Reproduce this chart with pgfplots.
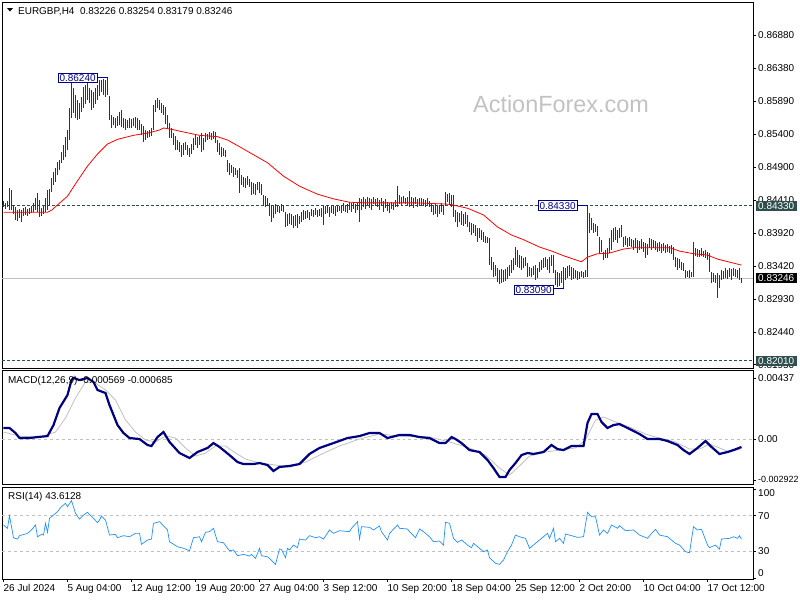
\documentclass[border=0pt]{standalone}
\usepackage{pgfplots}
\pgfplotsset{compat=1.18}
\usepackage{pgfplotstable}
\usepackage{fontspec}
\setmainfont{Liberation Sans}

\definecolor{barc}{RGB}{16,62,86}
\definecolor{slatec}{RGB}{47,79,79}
\definecolor{macdc}{RGB}{0,0,128}
\definecolor{sigc}{RGB}{192,192,192}
\definecolor{rsic}{RGB}{30,144,255}
\definecolor{boxc}{RGB}{0,0,139}
\newcommand\lab{\fontsize{10}{11}\selectfont}

% H4 bars, high and low, one row per bar
\pgfplotstableread[row sep=\\]{
h l\\
0.8440 0.8431\\ 0.8437 0.8428\\ 0.8440 0.8431\\ 0.8459 0.8426\\ 0.8456 0.8426\\ 0.8434 0.8420\\ 0.8431 0.8411\\ 0.8426 0.8410\\ 0.8428 0.8414\\ 0.8426 0.8408\\
0.8429 0.8417\\ 0.8431 0.8419\\ 0.8428 0.8417\\ 0.8429 0.8420\\ 0.8432 0.8422\\ 0.8437 0.8423\\ 0.8444 0.8426\\ 0.8452 0.8423\\ 0.8441 0.8416\\ 0.8429 0.8417\\
0.8432 0.8420\\ 0.8444 0.8423\\ 0.8456 0.8426\\ 0.8458 0.8432\\ 0.8474 0.8453\\ 0.8483 0.8464\\ 0.8489 0.8468\\ 0.8498 0.8479\\ 0.8501 0.8486\\ 0.8513 0.8497\\
0.8523 0.8501\\ 0.8535 0.8506\\ 0.8546 0.8516\\ 0.8579 0.8531\\ 0.8621 0.8564\\ 0.8609 0.8571\\ 0.8598 0.8564\\ 0.8591 0.8561\\ 0.8586 0.8562\\ 0.8595 0.8573\\
0.8610 0.8579\\ 0.8613 0.8585\\ 0.8621 0.8591\\ 0.8609 0.8586\\ 0.8606 0.8576\\ 0.8603 0.8579\\ 0.8609 0.8585\\ 0.8613 0.8591\\ 0.8621 0.8597\\ 0.8621 0.8603\\
0.8622 0.8598\\ 0.8621 0.8595\\ 0.8624 0.8598\\ 0.8597 0.8561\\ 0.8568 0.8549\\ 0.8565 0.8553\\ 0.8564 0.8549\\ 0.8567 0.8552\\ 0.8573 0.8553\\ 0.8576 0.8550\\
0.8564 0.8549\\ 0.8562 0.8546\\ 0.8561 0.8549\\ 0.8564 0.8549\\ 0.8562 0.8549\\ 0.8564 0.8552\\ 0.8565 0.8549\\ 0.8564 0.8546\\ 0.8561 0.8546\\ 0.8555 0.8538\\
0.8552 0.8528\\ 0.8546 0.8531\\ 0.8544 0.8534\\ 0.8546 0.8535\\ 0.8549 0.8537\\ 0.8583 0.8546\\ 0.8591 0.8573\\ 0.8594 0.8579\\ 0.8591 0.8576\\ 0.8586 0.8571\\
0.8583 0.8568\\ 0.8580 0.8555\\ 0.8568 0.8549\\ 0.8556 0.8534\\ 0.8549 0.8534\\ 0.8541 0.8523\\ 0.8537 0.8516\\ 0.8531 0.8516\\ 0.8528 0.8513\\ 0.8523 0.8506\\
0.8526 0.8509\\ 0.8528 0.8516\\ 0.8523 0.8509\\ 0.8519 0.8506\\ 0.8525 0.8510\\ 0.8534 0.8516\\ 0.8538 0.8523\\ 0.8535 0.8519\\ 0.8537 0.8523\\ 0.8541 0.8513\\
0.8534 0.8516\\ 0.8541 0.8528\\ 0.8540 0.8531\\ 0.8543 0.8532\\ 0.8541 0.8531\\ 0.8544 0.8532\\ 0.8543 0.8526\\ 0.8531 0.8513\\ 0.8526 0.8509\\ 0.8520 0.8506\\
0.8519 0.8507\\ 0.8516 0.8506\\ 0.8501 0.8483\\ 0.8497 0.8479\\ 0.8494 0.8482\\ 0.8491 0.8476\\ 0.8489 0.8479\\ 0.8486 0.8474\\ 0.8489 0.8452\\ 0.8479 0.8464\\
0.8476 0.8461\\ 0.8474 0.8459\\ 0.8477 0.8464\\ 0.8473 0.8461\\ 0.8468 0.8449\\ 0.8467 0.8450\\ 0.8465 0.8449\\ 0.8468 0.8456\\ 0.8468 0.8452\\ 0.8465 0.8449\\
0.8449 0.8434\\ 0.8447 0.8431\\ 0.8444 0.8432\\ 0.8437 0.8417\\ 0.8434 0.8408\\ 0.8432 0.8414\\ 0.8435 0.8420\\ 0.8434 0.8423\\ 0.8432 0.8422\\ 0.8435 0.8425\\
0.8434 0.8423\\ 0.8423 0.8401\\ 0.8420 0.8402\\ 0.8422 0.8405\\ 0.8420 0.8404\\ 0.8417 0.8399\\ 0.8419 0.8402\\ 0.8420 0.8399\\ 0.8417 0.8405\\ 0.8423 0.8408\\
0.8426 0.8411\\ 0.8425 0.8413\\ 0.8426 0.8414\\ 0.8423 0.8411\\ 0.8428 0.8417\\ 0.8426 0.8416\\ 0.8429 0.8419\\ 0.8426 0.8416\\ 0.8428 0.8417\\ 0.8429 0.8416\\
0.8434 0.8404\\ 0.8432 0.8420\\ 0.8434 0.8422\\ 0.8431 0.8416\\ 0.8432 0.8422\\ 0.8434 0.8420\\ 0.8432 0.8417\\ 0.8434 0.8423\\ 0.8432 0.8425\\ 0.8434 0.8422\\
0.8437 0.8425\\ 0.8434 0.8423\\ 0.8435 0.8422\\ 0.8438 0.8426\\ 0.8437 0.8423\\ 0.8438 0.8428\\ 0.8435 0.8422\\ 0.8438 0.8426\\ 0.8444 0.8408\\ 0.8443 0.8426\\
0.8446 0.8431\\ 0.8443 0.8428\\ 0.8446 0.8434\\ 0.8444 0.8429\\ 0.8443 0.8426\\ 0.8446 0.8435\\ 0.8443 0.8432\\ 0.8444 0.8431\\ 0.8441 0.8426\\ 0.8444 0.8432\\
0.8440 0.8423\\ 0.8443 0.8429\\ 0.8438 0.8425\\ 0.8437 0.8422\\ 0.8438 0.8428\\ 0.8437 0.8426\\ 0.8441 0.8431\\ 0.8462 0.8431\\ 0.8449 0.8435\\ 0.8446 0.8434\\
0.8447 0.8437\\ 0.8444 0.8435\\ 0.8446 0.8434\\ 0.8455 0.8431\\ 0.8446 0.8432\\ 0.8444 0.8429\\ 0.8446 0.8435\\ 0.8443 0.8431\\ 0.8444 0.8432\\ 0.8444 0.8434\\
0.8443 0.8432\\ 0.8441 0.8431\\ 0.8444 0.8434\\ 0.8440 0.8431\\ 0.8437 0.8423\\ 0.8434 0.8419\\ 0.8435 0.8420\\ 0.8432 0.8416\\ 0.8434 0.8420\\ 0.8437 0.8423\\
0.8434 0.8419\\ 0.8453 0.8432\\ 0.8450 0.8438\\ 0.8452 0.8434\\ 0.8449 0.8431\\ 0.8449 0.8416\\ 0.8426 0.8408\\ 0.8423 0.8401\\ 0.8422 0.8408\\ 0.8425 0.8404\\
0.8420 0.8402\\ 0.8423 0.8405\\ 0.8419 0.8401\\ 0.8408 0.8393\\ 0.8407 0.8389\\ 0.8405 0.8392\\ 0.8404 0.8387\\ 0.8399 0.8378\\ 0.8399 0.8384\\ 0.8396 0.8381\\
0.8393 0.8378\\ 0.8387 0.8377\\ 0.8386 0.8377\\ 0.8384 0.8344\\ 0.8356 0.8337\\ 0.8349 0.8326\\ 0.8344 0.8328\\ 0.8340 0.8319\\ 0.8337 0.8316\\ 0.8338 0.8317\\
0.8337 0.8319\\ 0.8338 0.8320\\ 0.8341 0.8323\\ 0.8344 0.8328\\ 0.8352 0.8332\\ 0.8355 0.8337\\ 0.8371 0.8344\\ 0.8367 0.8341\\ 0.8359 0.8340\\ 0.8358 0.8337\\
0.8355 0.8340\\ 0.8356 0.8343\\ 0.8347 0.8326\\ 0.8341 0.8328\\ 0.8340 0.8326\\ 0.8343 0.8329\\ 0.8344 0.8322\\ 0.8340 0.8325\\ 0.8349 0.8334\\ 0.8352 0.8337\\
0.8355 0.8340\\ 0.8356 0.8341\\ 0.8353 0.8337\\ 0.8356 0.8332\\ 0.8359 0.8343\\ 0.8359 0.8332\\ 0.8337 0.8314\\ 0.8334 0.8311\\ 0.8332 0.8313\\ 0.8335 0.8317\\
0.8341 0.8309\\ 0.8340 0.8322\\ 0.8343 0.8325\\ 0.8344 0.8328\\ 0.8341 0.8322\\ 0.8340 0.8323\\ 0.8337 0.8325\\ 0.8335 0.8322\\ 0.8334 0.8323\\ 0.8335 0.8326\\
0.8334 0.8325\\ 0.8337 0.8326\\ 0.8433 0.8326\\ 0.8422 0.8392\\ 0.8414 0.8396\\ 0.8407 0.8392\\ 0.8405 0.8393\\ 0.8402 0.8387\\ 0.8386 0.8362\\ 0.8381 0.8364\\
0.8364 0.8352\\ 0.8367 0.8355\\ 0.8369 0.8355\\ 0.8384 0.8362\\ 0.8396 0.8367\\ 0.8399 0.8378\\ 0.8401 0.8381\\ 0.8396 0.8377\\ 0.8399 0.8384\\ 0.8404 0.8386\\
0.8386 0.8371\\ 0.8387 0.8374\\ 0.8384 0.8371\\ 0.8386 0.8372\\ 0.8383 0.8371\\ 0.8381 0.8367\\ 0.8384 0.8369\\ 0.8381 0.8362\\ 0.8380 0.8367\\ 0.8383 0.8368\\
0.8378 0.8364\\ 0.8377 0.8355\\ 0.8375 0.8359\\ 0.8384 0.8369\\ 0.8383 0.8367\\ 0.8381 0.8369\\ 0.8380 0.8367\\ 0.8377 0.8364\\ 0.8378 0.8365\\ 0.8375 0.8362\\
0.8377 0.8365\\ 0.8374 0.8362\\ 0.8375 0.8364\\ 0.8372 0.8362\\ 0.8374 0.8360\\ 0.8371 0.8352\\ 0.8356 0.8341\\ 0.8355 0.8337\\ 0.8353 0.8340\\ 0.8349 0.8337\\
0.8347 0.8335\\ 0.8337 0.8325\\ 0.8335 0.8326\\ 0.8337 0.8325\\ 0.8334 0.8326\\ 0.8378 0.8326\\ 0.8369 0.8358\\ 0.8368 0.8356\\ 0.8367 0.8356\\ 0.8369 0.8358\\
0.8365 0.8356\\ 0.8367 0.8355\\ 0.8364 0.8352\\ 0.8362 0.8334\\ 0.8334 0.8317\\ 0.8332 0.8319\\ 0.8329 0.8317\\ 0.8332 0.8295\\ 0.8329 0.8310\\ 0.8337 0.8322\\
0.8335 0.8323\\ 0.8340 0.8325\\ 0.8337 0.8323\\ 0.8340 0.8326\\ 0.8338 0.8322\\ 0.8340 0.8328\\ 0.8338 0.8326\\ 0.8337 0.8325\\ 0.8340 0.8322\\ 0.8325 0.8318\\
}\bars

\pgfplotsset{
  panel/.style={
    scale only axis, width=751bp,
    xmin=-0.75, xmax=374.75,
    axis line style={black, line width=0.8pt},
    tick align=outside, major tick length=3bp,
    tick style={black, line width=0.6pt},
    ytick pos=right, yticklabel pos=right,
    scaled y ticks=false,
    yticklabel style={font=\lab, anchor=west, inner sep=0pt, xshift=2bp},
    xtick=\empty, clip=false,
  },
}
\tikzset{
  tagbox/.style={draw=boxc, fill=white, text=boxc, font=\lab, inner xsep=1.5pt,
    inner ysep=1.2pt, line width=0.8pt, anchor=east},
  pricetag/.style={text=white, font=\lab, inner xsep=2.5pt, inner ysep=1.5pt, anchor=west},
}

\begin{document}
\begin{tikzpicture}
\useasboundingbox (0,0) rectangle (800bp,-600bp);

% ---------------- price panel ----------------
\begin{axis}[panel, at={(2bp,-2bp)}, anchor=north west, height=366bp,
    ymin=0.81902, ymax=0.87373,
    ytick={0.8195,0.8244,0.8293,0.8342,0.8392,0.8441,0.8490,0.8540,0.8589,0.8638,0.8688},
    yticklabels={0.81950,0.82440,0.82930,0.83420,0.83920,0.84410,0.84900,0.85400,0.85890,0.86380,0.86880},
  ]
  \addplot[slatec, line width=0.7pt, dash pattern=on 3pt off 2pt, forget plot] coordinates {(-0.75,0.8433) (374.75,0.8433)};
  \addplot[slatec, line width=0.7pt, dash pattern=on 3pt off 2pt, forget plot] coordinates {(-0.75,0.8201) (374.75,0.8201)};
  \addplot[sigc, line width=0.7pt, forget plot] coordinates {(-0.75,0.83246) (374.75,0.83246)};

  \addplot[draw=none, no markers, forget plot,
    error bars/.cd, y dir=minus, y explicit, error mark=none,
    error bar style={draw=barc, line width=1.2bp}]
    table[x expr=\coordindex, y=h, y error minus expr=\thisrow{h}-\thisrow{l}] {\bars};

  \addplot[red, line width=0.8pt] table[row sep=\\] {
    n ma\\ 0 0.8423\\ 22 0.8423\\ 24 0.8426\\ 27 0.8434\\ 32 0.8447\\ 37 0.8470\\ 42 0.8492\\ 47 0.8510\\
    52 0.8525\\ 57 0.8532\\ 65 0.8538\\ 73 0.8542\\ 78 0.8546\\ 80 0.8549\\ 84 0.8547\\ 90 0.8543\\
    98 0.8538\\ 107 0.8536\\ 112 0.8531\\ 118 0.8521\\ 125 0.8509\\ 132 0.8497\\ 140 0.8477\\ 148 0.8462\\
    157 0.8450\\ 165 0.8443\\ 173 0.8438\\ 182 0.8437\\ 190 0.8437\\ 198 0.8437\\ 207 0.8437\\ 215 0.8436\\
    223 0.8435\\ 232 0.8429\\ 240 0.8419\\ 247 0.8401\\ 254 0.8389\\ 260 0.8382\\ 268 0.8371\\ 275 0.8364\\
    280 0.8358\\ 289 0.8349\\ 292 0.8356\\ 297 0.8361\\ 303 0.8362\\ 310 0.8368\\ 315 0.8370\\ 323 0.8370\\
    333 0.8370\\ 338 0.8365\\ 345 0.8361\\ 352 0.8359\\ 357 0.8353\\ 365 0.8347\\ 369 0.8344\\
  };

  % swing high / low markers
  \addplot[boxc, line width=0.7pt] coordinates {(47,0.8624) (52,0.8624)};
  \addplot[boxc, line width=0.7pt] coordinates {(287,0.8433) (292,0.8433)};
  \addplot[boxc, line width=0.7pt] coordinates {(275,0.8309) (280,0.8309)};
  \node[tagbox] at (axis cs:47,0.8624) {0.86240};
  \node[tagbox] at (axis cs:287,0.8433) {0.84330};
  \node[tagbox] at (axis cs:275,0.8307) {0.83090};

  % price tags on the scale
  \node[pricetag, fill=slatec] at ([xshift=2.5bp]axis cs:374.75,0.8433) {0.84330};
  \node[pricetag, fill=black] at ([xshift=2.5bp]axis cs:374.75,0.83246) {0.83246};
  \node[pricetag, fill=slatec] at ([xshift=2.5bp]axis cs:374.75,0.8201) {0.82010};
\end{axis}

% ---------------- MACD panel ----------------
\begin{axis}[panel, at={(2bp,-370bp)}, anchor=north west, height=114bp,
    ymin=-0.00322, ymax=0.00494,
    ytick={-0.002922,0,0.00437},
    yticklabels={{\fontsize{9}{10}\selectfont -0.002922},0.00,0.00437},
  ]
  \addplot[sigc, dashed, line width=0.6pt, forget plot] coordinates {(-0.75,0) (374.75,0)};
  \addplot[sigc, line width=0.8pt] table[row sep=\\] {
    n s\\ 0 0.00050\\ 8 0.00021\\ 18 0.00014\\ 26 0.00050\\ 31 0.00150\\ 36 0.00294\\ 41 0.00408\\
    46 0.00401\\ 51 0.00351\\ 56 0.00279\\ 61 0.00136\\ 66 0.00050\\ 71 -0.00007\\ 76 -0.00021\\
    81 0.00021\\ 86 0.00007\\ 91 -0.00064\\ 96 -0.00122\\ 101 -0.00100\\ 106 -0.00050\\ 111 -0.00050\\
    116 -0.00100\\ 121 -0.00143\\ 128 -0.00172\\ 136 -0.00186\\ 143 -0.00200\\ 151 -0.00165\\
    158 -0.00115\\ 168 -0.00050\\ 178 0.00000\\ 188 0.00036\\ 198 0.00021\\ 213 0.00014\\
    223 -0.00021\\ 233 -0.00064\\ 241 -0.00115\\ 248 -0.00208\\ 253 -0.00258\\ 258 -0.00193\\
    263 -0.00122\\ 271 -0.00093\\ 278 -0.00079\\ 286 -0.00064\\ 291 -0.00007\\ 296 0.00136\\
    300 0.00158\\ 306 0.00122\\ 313 0.00086\\ 321 0.00036\\ 328 0.00007\\ 336 -0.00021\\
    343 -0.00072\\ 348 -0.00072\\ 353 -0.00036\\ 358 -0.00064\\ 363 -0.00093\\ 369 -0.00069\\
  };
  \addplot[macdc, line width=2.2pt] table[row sep=\\] {
    n m\\ 0 0.00079\\ 3 0.00079\\ 6 0.00043\\ 8 0.00007\\ 13 0.00007\\ 17 0.00014\\ 22 0.00021\\
    25 0.00100\\ 28 0.00222\\ 32 0.00315\\ 34 0.00422\\ 35 0.00437\\ 38 0.00422\\ 42 0.00437\\
    45 0.00408\\ 47 0.00351\\ 51 0.00329\\ 53 0.00243\\ 57 0.00100\\ 60 0.00043\\ 63 0.00007\\
    68 0.00000\\ 72 -0.00043\\ 74 -0.00050\\ 77 0.00014\\ 80 0.00050\\ 83 -0.00021\\ 88 -0.00100\\
    93 -0.00136\\ 97 -0.00093\\ 102 -0.00064\\ 105 -0.00029\\ 108 -0.00057\\ 113 -0.00115\\
    117 -0.00165\\ 120 -0.00179\\ 125 -0.00179\\ 128 -0.00172\\ 132 -0.00186\\ 135 -0.00229\\
    138 -0.00200\\ 143 -0.00193\\ 148 -0.00179\\ 153 -0.00107\\ 158 -0.00064\\ 165 -0.00029\\
    172 0.00007\\ 178 0.00021\\ 183 0.00043\\ 188 0.00043\\ 192 0.00007\\ 198 0.00029\\
    203 0.00029\\ 208 0.00014\\ 213 0.00007\\ 218 -0.00029\\ 221 -0.00029\\ 224 0.00014\\
    226 0.00000\\ 229 -0.00029\\ 233 -0.00079\\ 238 -0.00093\\ 242 -0.00150\\ 245 -0.00208\\
    248 -0.00272\\ 251 -0.00272\\ 253 -0.00222\\ 256 -0.00172\\ 259 -0.00115\\ 262 -0.00100\\
    265 -0.00107\\ 270 -0.00093\\ 274 -0.00043\\ 277 -0.00072\\ 280 -0.00079\\ 284 -0.00050\\
    290 -0.00050\\ 292 0.00115\\ 294 0.00179\\ 297 0.00179\\ 299 0.00122\\ 302 0.00079\\
    305 0.00100\\ 308 0.00107\\ 313 0.00072\\ 318 0.00036\\ 322 0.00000\\ 328 0.00000\\
    332 -0.00014\\ 337 -0.00043\\ 340 -0.00079\\ 343 -0.00107\\ 347 -0.00064\\ 351 -0.00014\\
    354 -0.00057\\ 358 -0.00107\\ 362 -0.00093\\ 365 -0.00079\\ 369 -0.00057\\
  };
\end{axis}

% ---------------- RSI panel ----------------
\begin{axis}[panel, at={(2bp,-487bp)}, anchor=north west, height=92bp,
    ymin=-1.1, ymax=102.3,
    ytick={0,30,70,100}, yticklabels={,30,70,},
    xtick={0,32,64,96,128,160,192,224,256,288,320,352},
    xticklabels={26 Jul 2024,5 Aug 04:00,12 Aug 12:00,19 Aug 20:00,27 Aug 04:00,3 Sep 12:00,
      10 Sep 20:00,18 Sep 04:00,25 Sep 12:00,2 Oct 20:00,10 Oct 04:00,17 Oct 12:00},
    xtick pos=left,
    xticklabel style={font=\lab, anchor=north west, inner sep=0pt, xshift=0pt, yshift=-2bp},
  ]
  \addplot[sigc, dashed, line width=0.6pt, forget plot] coordinates {(-0.75,70) (374.75,70)};
  \addplot[sigc, dashed, line width=0.6pt, forget plot] coordinates {(-0.75,30) (374.75,30)};
  \addplot[rsic, line width=0.7pt] table[row sep=\\] {
    n r\\ 0 59.6\\ 2 55.9\\ 3 70.0\\ 5 45.3\\ 7 43.8\\ 8 47.6\\ 12 50.2\\ 14 54.0\\ 16 59.6\\ 17 46.4\\
    19 49.0\\ 20 48.3\\ 21 61.5\\ 22 51.4\\ 23 67.1\\ 25 70.8\\ 27 74.5\\ 28 77.6\\ 29 80.2\\ 31 84.0\\
    32 80.2\\ 34 87.0\\ 36 72.7\\ 38 66.3\\ 40 70.8\\ 42 73.9\\ 43 71.6\\ 45 67.1\\ 47 62.2\\ 48 65.2\\
    49 69.7\\ 51 65.2\\ 53 48.3\\ 56 49.1\\ 57 45.3\\ 60 47.6\\ 63 46.4\\ 66 50.2\\ 68 50.2\\ 69 37.9\\
    72 42.7\\ 74 43.8\\ 75 61.5\\ 78 63.3\\ 82 54.0\\ 83 40.8\\ 87 35.2\\ 90 33.4\\ 93 30.7\\ 95 45.3\\
    98 46.4\\ 99 40.8\\ 101 51.4\\ 103 52.1\\ 105 55.9\\ 107 40.8\\ 110 39.7\\ 112 33.4\\ 113 30.7\\
    115 31.5\\ 117 25.1\\ 120 26.6\\ 123 24.7\\ 124 26.6\\ 126 22.1\\ 128 33.4\\ 129 25.1\\ 132 23.9\\
    133 22.1\\ 136 15.4\\ 138 32.6\\ 139 32.2\\ 141 22.8\\ 142 33.4\\ 143 31.5\\ 145 37.1\\ 147 34.1\\
    148 43.8\\ 151 42.7\\ 153 47.6\\ 156 45.3\\ 158 46.4\\ 160 43.8\\ 163 54.0\\ 165 50.2\\ 168 53.2\\
    173 52.1\\ 174 55.9\\ 177 63.3\\ 178 43.8\\ 179 57.7\\ 183 57.0\\ 185 54.0\\ 188 58.5\\ 189 52.1\\
    192 42.7\\ 193 50.2\\ 197 59.6\\ 198 55.9\\ 202 55.1\\ 203 52.1\\ 206 45.3\\ 208 55.1\\ 210 52.1\\
    213 46.4\\ 215 40.8\\ 218 41.6\\ 220 37.1\\ 221 62.6\\ 223 61.5\\ 225 44.6\\ 227 40.1\\ 229 42.7\\
    232 37.1\\ 234 34.1\\ 235 39.0\\ 238 33.4\\ 240 29.6\\ 242 31.5\\ 243 22.8\\ 246 16.5\\ 248 15.4\\
    250 20.2\\ 252 29.6\\ 254 37.1\\ 256 48.3\\ 258 46.4\\ 261 44.6\\ 263 33.4\\ 265 37.1\\ 268 42.7\\
    269 44.6\\ 272 50.2\\ 273 44.6\\ 275 55.9\\ 276 40.8\\ 278 44.6\\ 280 39.0\\ 281 49.5\\ 284 47.6\\
    287 45.7\\ 290 46.4\\ 292 73.9\\ 294 68.9\\ 296 68.9\\ 298 48.3\\ 300 54.0\\ 302 50.2\\ 304 59.6\\
    307 55.9\\ 308 58.8\\ 311 53.2\\ 315 54.0\\ 318 48.3\\ 322 44.6\\ 324 50.2\\ 326 54.8\\ 328 48.3\\
    332 46.4\\ 334 42.7\\ 336 39.0\\ 338 37.1\\ 341 29.6\\ 343 28.4\\ 345 57.7\\ 347 54.0\\ 349 54.8\\
    352 37.1\\ 353 34.1\\ 356 37.1\\ 358 32.6\\ 359 43.8\\ 363 44.6\\ 365 46.4\\ 367 44.6\\ 368 47.6\\
    369 43.6\\
  };
  \node[font=\lab, anchor=west, inner sep=0pt] at ([xshift=5bp,yshift=-4bp]axis cs:374.75,100) {100};
  \node[font=\lab, anchor=west, inner sep=0pt] at ([xshift=5bp,yshift=5bp]axis cs:374.75,0) {0};
\end{axis}

% header texts
\fill (7bp,-8bp) -- (13bp,-8bp) -- (10bp,-11.5bp) -- cycle;
\node[font=\lab, anchor=base west, inner sep=0pt] at (18bp,-14bp)
  {EURGBP,H4\ \ 0.83226 0.83254 0.83179 0.83246};
\node[font=\fontsize{23.5}{26}\selectfont, text=black!24, anchor=base west, inner sep=0pt]
  at (473bp,-112bp) {ActionForex.com};
\node[font=\lab, anchor=base west, inner sep=0pt] at (8bp,-383.5bp) {MACD(12,26,9) -0.000569 -0.000685};
\node[font=\lab, anchor=base west, inner sep=0pt] at (8bp,-499bp) {RSI(14) 43.6128};
\end{tikzpicture}
\end{document}
